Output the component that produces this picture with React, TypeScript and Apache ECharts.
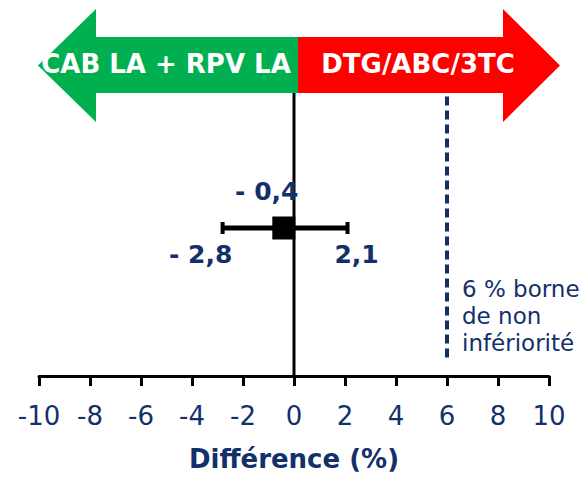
import React, { useEffect, useRef } from "react";
import * as echarts from "echarts";

// Treatment difference (%) with its 95 % confidence interval
const estimates = [-0.4];
const lowerBounds = [-2.8];
const upperBounds = [2.1];
const rowLevel = [4];

// Non-inferiority margin (%)
const nonInferiorityMargin = 6;
const marginLabel = ["6 % borne", "de non", "infériorité"];

// Axis range and tick step
const axisMin = -10;
const axisMax = 10;
const axisStep = 2;

const armLeft = "CAB LA + RPV LA";
const armRight = "DTG/ABC/3TC";
const axisTitle = "Différence (%)";

const NAVY = "#13306a";
const GREEN = "#00b050";
const RED = "#ff0000";
const FONT = "DejaVu Sans";

const fmt = (v: number) =>
  (v < 0 ? "- " : "") + Math.abs(v).toFixed(1).replace(".", ",");

export default function App() {
  const ref = useRef<HTMLDivElement>(null);

  useEffect(() => {
    if (!ref.current) return;
    const chart = echarts.init(ref.current, null, { renderer: "svg" });

    const ciData = estimates.map((e, i) => [e, lowerBounds[i], upperBounds[i], rowLevel[i]]);

    chart.setOption({
      animation: false,
      grid: { left: 39, right: 38, top: 6, bottom: 101 },
      xAxis: {
        type: "value",
        min: axisMin,
        max: axisMax,
        interval: axisStep,
        splitLine: { show: false },
        axisLine: { lineStyle: { color: "#000", width: 3 } },
        axisTick: { length: 10, lineStyle: { color: "#000", width: 3 } },
        axisLabel: { color: NAVY, fontFamily: FONT, fontSize: 26, margin: 27 },
        name: axisTitle,
        nameLocation: "middle",
        nameGap: 70,
        nameTextStyle: { color: NAVY, fontFamily: FONT, fontSize: 26, fontWeight: "bold" },
      },
      yAxis: { type: "value", min: 0, max: 10, show: false },
      series: [
        {
          // no-difference reference line
          type: "line",
          data: [[0, 0], [0, 7.7]],
          symbol: "none",
          lineStyle: { color: "#000", width: 3 },
          z: 1,
        },
        {
          // non-inferiority margin
          type: "line",
          data: [[nonInferiorityMargin, 0.5], [nonInferiorityMargin, 7.7]],
          symbol: "none",
          lineStyle: { color: NAVY, width: 4, type: [9, 5] },
          z: 1,
        },
        {
          type: "custom",
          data: ciData,
          z: 5,
          renderItem: (params: any, api: any) => {
            const y = api.value(3);
            const pE = api.coord([api.value(0), y]);
            const pL = api.coord([api.value(1), y]);
            const pH = api.coord([api.value(2), y]);
            const labelStyle = {
              fill: NAVY,
              font: `bold 25px "${FONT}"`,
              align: "center",
              verticalAlign: "middle",
            };
            return {
              type: "group",
              children: [
                {
                  type: "line",
                  shape: { x1: pL[0], y1: pL[1], x2: pH[0], y2: pH[1] },
                  style: { stroke: "#000", lineWidth: 5 },
                },
                {
                  type: "line",
                  shape: { x1: pL[0], y1: pL[1] - 6, x2: pL[0], y2: pL[1] + 6 },
                  style: { stroke: "#000", lineWidth: 4 },
                },
                {
                  type: "line",
                  shape: { x1: pH[0], y1: pH[1] - 6, x2: pH[0], y2: pH[1] + 6 },
                  style: { stroke: "#000", lineWidth: 4 },
                },
                {
                  type: "rect",
                  shape: { x: pE[0] - 11.5, y: pE[1] - 11.5, width: 23, height: 23 },
                  style: { fill: "#000" },
                },
                {
                  type: "text",
                  x: pE[0] - 17,
                  y: pE[1] - 37,
                  style: { ...labelStyle, text: fmt(api.value(0)) },
                },
                {
                  type: "text",
                  x: pL[0] - 22,
                  y: pL[1] + 26,
                  style: { ...labelStyle, text: fmt(api.value(1)) },
                },
                {
                  type: "text",
                  x: pH[0] + 9,
                  y: pH[1] + 26,
                  style: { ...labelStyle, text: fmt(api.value(2)) },
                },
              ],
            };
          },
        },
      ],
    });

    const [mx] = chart.convertToPixel({ gridIndex: 0 }, [nonInferiorityMargin, 0]);

    // Header arrows: favoured treatment on either side of zero
    const split = 298;
    const bodyTop = 37;
    const bodyBottom = 93;
    const headTop = 9;
    const headBottom = 122;
    const midY = 65.5;
    chart.setOption({
      graphic: [
        {
          type: "polygon",
          z: 100,
          shape: {
            points: [
              [38, midY],
              [96, headTop],
              [96, bodyTop],
              [split, bodyTop],
              [split, bodyBottom],
              [96, bodyBottom],
              [96, headBottom],
            ],
          },
          style: { fill: GREEN },
        },
        {
          type: "polygon",
          z: 100,
          shape: {
            points: [
              [split, bodyTop],
              [503, bodyTop],
              [503, headTop],
              [560, midY],
              [503, headBottom],
              [503, bodyBottom],
              [split, bodyBottom],
            ],
          },
          style: { fill: RED },
        },
        {
          type: "text",
          z: 101,
          x: 166,
          y: 64,
          style: {
            text: armLeft,
            fill: "#fff",
            font: `bold 26px "${FONT}"`,
            align: "center",
            verticalAlign: "middle",
          },
        },
        {
          type: "text",
          z: 101,
          x: 418,
          y: 64,
          style: {
            text: armRight,
            fill: "#fff",
            font: `bold 26px "${FONT}"`,
            align: "center",
            verticalAlign: "middle",
          },
        },
        ...marginLabel.map((t, i) => ({
          type: "text",
          z: 101,
          x: mx + 15,
          y: 289 + i * 27,
          style: {
            text: t,
            fill: NAVY,
            font: `23px "${FONT}"`,
            align: "left",
            verticalAlign: "middle",
          },
        })),
      ],
    });

    return () => chart.dispose();
  }, []);

  return <div ref={ref} style={{ width: 587, height: 477, position: "absolute", left: 0, top: 0 }} />;
}
